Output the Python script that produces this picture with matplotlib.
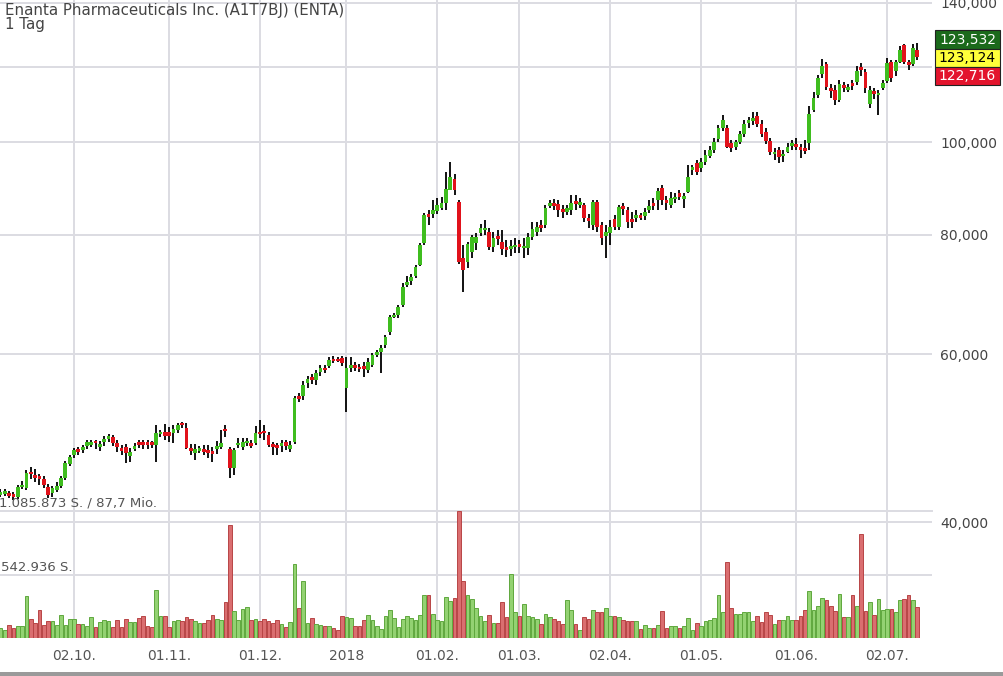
import numpy as np
import matplotlib
matplotlib.use("Agg")
import matplotlib.pyplot as plt
from matplotlib.patches import Rectangle

# trading-day index, 0 = 02.10.2017
first_day = -17
tick_days = [0, 22, 43, 63, 84, 103, 124, 145, 167, 188]
tick_labels = ["02.10.", "01.11.", "01.12.", "2018", "01.02.", "01.03.",
               "02.04.", "01.05.", "01.06.", "02.07."]
price_ticks = [40000, 60000, 80000, 100000, 140000]
price_grid = [40000, 60000, 80000, 100000, 120000, 140000]
vol_max = 1085873
quote_values = ["123,532", "123,124", "122,716"]

# daily candles, prices in thousands
opens = [
    42.7, 42.9, 42.9, 42.8, 42.5, 43.53, 43.42, 45.07, 44.85, 44.63, 44.41, 43.53, 42.9, 43.2, 43.64, 44.52, 46.06,
    47.05, 47.6, 47.6, 48.08, 48.32, 48.56, 47.96, 48.56, 48.92, 49.16,
    48.44, 47.72, 47.96, 46.94, 47.72, 48.44, 48.44, 48.44, 48.44, 48.2,
    49.52, 49.76, 49.76, 49.64, 50.0, 50.72, 50.24, 47.72, 47.27, 47.6,
    47.6, 47.49, 47.38, 47.72, 47.96, 50.0, 47.72, 45.62, 48.2, 47.96,
    48.44, 48.32, 48.44, 49.64, 49.76, 49.4, 48.2, 48.08, 48.08, 48.56,
    47.72, 48.56, 54.09, 54.22, 55.98, 56.66, 56.4, 57.44, 57.98, 58.26,
    59.25, 59.25, 59.4, 55.28, 58.12, 58.4, 58.12, 58.26, 57.7, 58.4,
    59.85, 60.3, 61.35, 63.3, 65.58, 65.9, 67.55, 70.85, 71.53, 72.44,
    74.4, 78.43, 83.9, 84.1, 84.7, 85.32, 86.37, 89.1, 91.53, 86.58,
    75.66, 74.94, 76.74, 78.43, 80.33, 80.9, 80.52, 77.67, 79.57, 78.62,
    77.48, 77.29, 77.67, 78.05, 77.48, 77.48, 79.57, 80.52, 81.7, 81.9,
    85.95, 86.16, 86.16, 84.9, 84.5, 84.9, 86.58, 86.16, 85.95, 83.1,
    81.9, 86.58, 81.9, 79.76, 80.33, 83.1, 81.5, 85.53, 84.9, 82.9,
    83.5, 83.7, 83.7, 84.9, 86.37, 87.0, 89.54, 86.79, 85.95, 87.21,
    88.47, 87.42, 88.68, 93.6, 95.14, 94.04, 95.36, 96.76, 98.2, 100.84,
    103.52, 103.52, 99.88, 98.92, 100.12, 102.04, 105.08, 105.34, 106.6, 104.56,
    102.52, 100.36, 97.24, 98.2, 96.76, 97.72, 99.4, 99.64, 98.92, 98.68,
    99.88, 108.1, 112.15, 117.98, 120.84, 114.06, 113.5, 110.8, 114.62, 113.78,
    115.18, 115.74, 119.68, 118.54, 109.72, 113.23, 112.15, 114.06, 116.02, 121.42,
    118.82, 121.42, 126.5, 121.13, 120.84, 125.0]
closes = [
    43.0, 43.0, 42.6, 42.5, 43.53, 43.75, 45.07, 44.96, 44.52, 44.41, 43.75, 42.7, 43.42, 43.64, 44.52, 46.17, 46.83,
    47.6, 47.49, 47.96, 48.56, 48.44, 48.44, 48.32, 48.8, 49.16, 48.44,
    47.96, 47.6, 47.27, 47.38, 48.08, 48.32, 48.32, 48.32, 48.32, 49.64,
    49.64, 49.28, 49.28, 50.12, 50.6, 50.6, 47.84, 47.6, 47.72, 47.72,
    47.49, 47.38, 47.27, 48.08, 48.44, 49.88, 45.62, 47.6, 48.44, 48.56,
    48.56, 48.2, 49.64, 49.52, 49.64, 48.2, 48.08, 47.96, 48.44, 48.08,
    48.2, 53.96, 53.96, 55.7, 56.53, 56.53, 57.31, 57.98, 57.84, 59.1,
    59.1, 59.1, 58.68, 57.98, 58.4, 57.98, 57.98, 57.84, 58.82, 59.85,
    60.3, 60.9, 62.55, 65.58, 65.9, 67.21, 70.51, 71.36, 72.26, 74.04,
    78.05, 83.9, 83.7, 84.9, 85.95, 86.37, 89.32, 91.99, 89.1, 74.94,
    73.5, 78.24, 79.57, 79.57, 81.3, 81.3, 77.67, 79.38, 79.38, 77.29,
    77.29, 77.86, 78.05, 77.86, 77.86, 79.57, 81.1, 81.5, 81.5, 85.32,
    86.16, 85.95, 84.9, 84.7, 85.32, 86.37, 86.37, 86.37, 83.3, 82.9,
    86.58, 81.5, 79.38, 80.52, 81.5, 81.5, 85.53, 85.32, 82.5, 82.7,
    83.7, 83.5, 84.5, 85.74, 85.74, 88.89, 87.0, 86.58, 87.42, 87.63,
    87.63, 87.63, 91.99, 94.26, 93.14, 95.36, 97.0, 98.2, 100.12, 103.52,
    105.6, 98.92, 98.68, 100.12, 102.04, 104.56, 105.34, 106.1, 104.56, 102.04,
    100.36, 97.72, 97.72, 96.52, 97.24, 98.92, 99.64, 98.92, 98.2, 97.96,
    107.1, 111.34, 116.86, 120.26, 114.34, 113.23, 110.8, 115.18, 114.34, 114.06,
    114.9, 118.82, 119.39, 114.06, 113.5, 112.42, 112.69, 115.46, 121.13, 116.86,
    121.42, 125.0, 121.42, 120.84, 125.6, 122.9]
highs = [
    43.31, 43.31, 43.1, 43.0, 43.75, 44.19, 45.4, 45.73, 45.51, 44.96, 44.74, 43.86, 43.64, 44.08, 44.74, 46.39, 47.05,
    47.84, 47.96, 48.2, 48.8, 48.8, 48.8, 48.68, 49.28, 49.52, 49.4,
    48.8, 48.2, 48.32, 47.84, 48.44, 48.8, 48.8, 48.8, 48.68, 50.6,
    50.0, 50.72, 50.36, 50.6, 50.84, 50.96, 50.84, 48.32, 48.32, 48.08,
    48.2, 48.2, 47.96, 48.68, 50.0, 50.6, 47.96, 47.84, 49.04, 49.04,
    49.04, 48.8, 50.48, 51.2, 50.6, 49.76, 48.56, 48.44, 48.8, 48.8,
    48.68, 54.22, 54.61, 56.26, 56.92, 57.18, 57.7, 58.4, 58.4, 59.55,
    59.7, 59.55, 59.7, 59.55, 59.55, 58.82, 58.54, 58.82, 59.4, 60.15,
    60.6, 61.35, 62.85, 65.9, 66.22, 67.55, 71.19, 72.42, 72.78, 74.4,
    78.43, 84.3, 84.9, 87.0, 87.42, 87.63, 93.14, 95.36, 92.68, 87.0,
    78.05, 78.62, 79.95, 80.33, 82.1, 82.9, 81.3, 80.52, 80.9, 80.9,
    79.0, 79.0, 79.38, 79.0, 79.38, 80.33, 82.5, 82.5, 82.9, 85.95,
    87.0, 87.21, 87.0, 85.95, 85.95, 88.05, 88.05, 87.42, 86.37, 84.1,
    87.0, 87.0, 82.5, 81.9, 82.9, 83.9, 85.95, 86.37, 85.53, 84.5,
    84.9, 84.3, 85.32, 87.0, 87.42, 89.54, 90.2, 87.84, 88.68, 88.47,
    89.1, 88.47, 94.7, 94.7, 95.8, 96.28, 98.2, 99.16, 101.08, 104.3,
    106.85, 104.3, 100.6, 100.6, 102.76, 105.6, 106.35, 107.6, 107.6, 105.6,
    103.52, 101.08, 98.68, 98.92, 98.2, 99.88, 100.6, 101.08, 99.64, 100.6,
    109.18, 112.96, 117.7, 122.3, 121.42, 115.18, 114.9, 116.3, 115.74, 115.18,
    116.3, 120.26, 121.13, 119.39, 114.62, 114.06, 113.5, 116.3, 122.6, 122.0,
    122.0, 126.2, 126.8, 122.0, 126.8, 127.1]
lows = [
    42.5, 42.6, 42.4, 42.2, 42.3, 43.31, 43.2, 44.41, 44.08, 43.75, 43.42, 42.4, 42.5, 43.0, 43.42, 44.3, 45.84,
    46.72, 47.05, 47.27, 47.72, 47.96, 47.72, 47.49, 48.08, 48.56, 48.08,
    47.38, 47.05, 46.17, 46.28, 47.49, 47.84, 47.72, 47.72, 47.84, 46.28,
    49.16, 48.8, 48.56, 48.44, 49.64, 50.24, 47.72, 47.05, 46.5, 47.27,
    47.05, 46.72, 46.28, 47.16, 47.72, 49.16, 44.52, 44.85, 47.84, 47.6,
    48.08, 47.84, 48.2, 49.04, 48.8, 47.96, 47.05, 47.05, 47.38, 47.6,
    47.38, 48.32, 53.44, 53.7, 55.28, 55.84, 55.7, 56.92, 57.31, 57.98,
    58.68, 58.82, 58.26, 52.16, 57.44, 57.57, 57.44, 56.79, 57.31, 58.12,
    59.55, 57.31, 60.9, 62.85, 65.42, 65.42, 67.21, 70.51, 70.85, 72.06,
    74.22, 78.05, 81.9, 83.3, 84.1, 84.9, 84.9, 89.1, 88.05, 74.58,
    69.68, 73.86, 75.66, 77.1, 79.76, 79.95, 77.1, 76.74, 78.05, 76.2,
    75.84, 76.02, 76.56, 76.56, 75.66, 76.2, 79.0, 79.76, 80.52, 81.3,
    85.32, 84.9, 83.5, 83.3, 83.9, 83.9, 84.9, 85.32, 82.5, 81.3,
    80.9, 80.52, 78.05, 75.66, 78.05, 80.9, 80.9, 83.9, 81.3, 81.3,
    82.5, 82.9, 82.9, 84.3, 84.9, 84.9, 85.95, 84.9, 85.32, 86.37,
    87.0, 85.32, 88.47, 92.45, 92.45, 93.14, 94.7, 96.28, 97.48, 100.12,
    102.76, 98.68, 97.72, 98.2, 99.64, 101.32, 103.52, 104.3, 103.78, 101.32,
    99.64, 97.0, 95.8, 95.14, 95.36, 97.48, 98.2, 98.2, 96.28, 97.24,
    98.2, 107.6, 111.34, 116.86, 113.5, 111.34, 109.45, 110.26, 112.96, 112.96,
    113.5, 114.9, 117.42, 112.69, 108.64, 111.07, 106.85, 113.5, 115.46, 115.74,
    117.42, 121.13, 120.84, 119.1, 120.26, 122.0]
# daily volume in thousand shares
volumes = [
    85.5, 71, 114, 85, 105, 105, 356, 162, 128, 242, 114, 142, 142, 114, 200, 114, 162,
    162, 123, 123, 105, 180, 91, 134, 157, 142, 91,
    157, 91, 162, 134, 134, 171, 185, 100, 91, 413,
    191, 185, 91, 142, 157, 142, 180, 162, 142, 128,
    128, 157, 200, 162, 151, 305, 969, 228, 157, 248,
    265, 151, 162, 142, 162, 142, 128, 157, 123, 91,
    134, 636, 257, 485, 128, 171, 123, 114, 100, 105,
    85, 66, 191, 180, 171, 100, 100, 157, 200, 151,
    105, 77, 185, 242, 171, 94, 162, 185, 168, 157,
    200, 365, 365, 205, 151, 142, 351, 319, 342, 1085.873,
    490, 365, 333, 257, 191, 142, 200, 128, 128, 305,
    177, 550, 219, 191, 291, 185, 180, 162, 123, 205,
    180, 162, 142, 123, 325, 242, 123, 71, 177, 165,
    237, 219, 219, 257, 191, 191, 180, 157, 145, 145,
    145, 77, 108, 85, 85, 114, 234, 85, 100, 100,
    85, 100, 171, 66, 128, 105, 142, 151, 168, 371,
    222, 647, 257, 205, 205, 219, 219, 142, 185, 134,
    219, 200, 123, 151, 157, 191, 151, 151, 185, 242,
    399, 242, 276, 342, 328, 276, 228, 379, 177, 180,
    371, 271, 889, 228, 305, 200, 333, 242, 248, 248,
    219, 328, 333, 371, 328, 265]

o = np.array(opens) * 1000
c = np.array(closes) * 1000
h = np.maximum(np.array(highs) * 1000, np.maximum(o, c))
l = np.minimum(np.array(lows) * 1000, np.minimum(o, c))
vol = np.array(volumes) * 1000
days = np.arange(first_day, first_day + len(o))
up = c >= o

W, H = 1004, 676
GREEN, RED = "#3fbd1f", "#e1121b"
GRID = "#dcdce2"

fig = plt.figure(figsize=(W / 100, H / 100), dpi=100)
ax = fig.add_axes([0, 1 - 638 / H, 932 / W, 638 / H])
ax.set_yscale("log")
ax.set_ylim(30240, 141017)
ax.set_xlim(-17.11, 198.4)
for s in ax.spines.values():
    s.set_visible(False)

for d in tick_days:
    ax.axvline(d, color=GRID, lw=1.4, zorder=0)
for p in price_grid:
    ax.axhline(p, color=GRID, lw=1.4, zorder=0)

ax.set_yticks(price_ticks)
ax.set_yticklabels([f"{p:,}" for p in price_ticks])
ax.yaxis.set_minor_locator(plt.NullLocator())
ax.yaxis.tick_right()
ax.tick_params(axis="y", which="both", length=0, pad=6, labelsize=10, labelcolor="#444")
ax.set_xticks(tick_days)
ax.set_xticklabels(tick_labels)
ax.tick_params(axis="x", length=0, pad=8, labelsize=10, labelcolor="#555")

# candles
ax.vlines(days, l, h, color="#111111", lw=1.4, zorder=2)
lo = np.minimum(o, c)
hi = np.maximum(o, c)
min_ratio = 1.006
mid = np.sqrt(lo * hi)
small = hi / lo < min_ratio
lo = np.where(small, mid / np.sqrt(min_ratio), lo)
hi = np.where(small, mid * np.sqrt(min_ratio), hi)
ax.bar(days, hi - lo, bottom=lo, width=0.86, color=np.where(up, GREEN, RED),
       lw=0, zorder=3)

# volume panel
axv = fig.add_axes([0, 1 - 638 / H, 932 / W, 127 / H])
axv.set_xlim(ax.get_xlim())
axv.set_ylim(0, vol_max)
axv.patch.set_alpha(0)
axv.axis("off")
axv.axhline(vol_max, color=GRID, lw=1.4, zorder=0, clip_on=False)
axv.axhline(vol_max / 2, color=GRID, lw=1.4, zorder=0)
axv.bar(days, vol, width=0.85, color=np.where(up, "#93d272", "#da6e70"),
        edgecolor=np.where(up, "#5fa83e", "#b84546"), lw=0.7, zorder=2)

fig.text(-1 / W, 1 - 509 / H, "1.085.873 S. / 87,7 Mio.", fontsize=9.5,
         color="#555", va="bottom", ha="left")
fig.text(1 / W, 1 - 574 / H, "542.936 S.", fontsize=9.5, color="#555",
         va="bottom", ha="left")

fig.text(5 / W, 1 - 3 / H, "Enanta Pharmaceuticals Inc. (A1T7BJ) (ENTA)",
         fontsize=10.8, color="#444", va="top", ha="left")
fig.text(5 / W, 1 - 17 / H, "1 Tag", fontsize=10.8, color="#444", va="top", ha="left")

# last quote boxes
box_colors = ["#1b6a1b", "#ffff3a", "#e3142d"]
box_text = ["white", "black", "white"]
box_top = [30, 49, 67]
box_h = [19, 18, 18]
for val, bc, tc, y0, bh in zip(quote_values, box_colors, box_text, box_top, box_h):
    fig.patches.append(Rectangle((935 / W, 1 - (y0 + bh) / H), 65 / W, bh / H,
                                 transform=fig.transFigure, facecolor=bc,
                                 edgecolor="#222", lw=0.8))
    fig.text(967.5 / W, 1 - (y0 + bh / 2) / H, val, fontsize=10, color=tc,
             ha="center", va="center")

fig.patches.append(Rectangle((0, 0), 1, 4 / H, transform=fig.transFigure,
                             facecolor="#9a9a9a", lw=0))

fig.savefig("out.png", dpi=100)
